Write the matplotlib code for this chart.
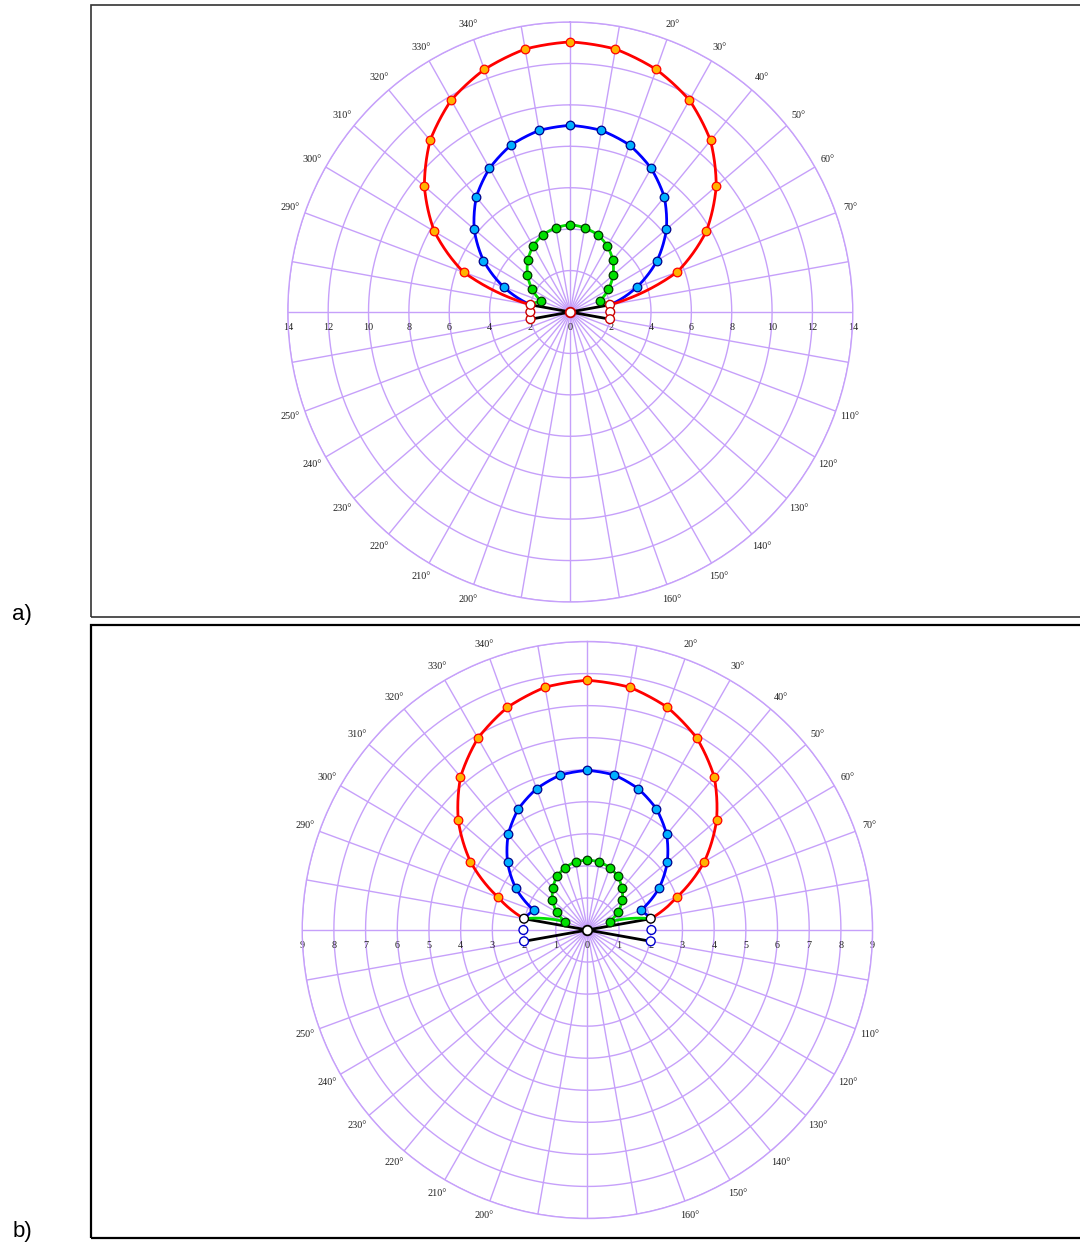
import numpy as np
import matplotlib
matplotlib.use("Agg")
import matplotlib.pyplot as plt
from matplotlib.patches import Rectangle

# ---------------- data ----------------
angles_deg = [-70, -60, -50, -40, -30, -20, -10, 0, 10, 20, 30, 40, 50, 60, 70]

a_red = [5.63, 7.78, 9.44, 10.81, 11.81, 12.46, 12.89, 13.04, 12.89, 12.46, 11.81, 10.81, 9.44, 7.78, 5.63]
a_blue = [3.50, 4.97, 6.22, 7.25, 8.01, 8.58, 8.90, 9.01, 8.90, 8.58, 8.01, 7.25, 6.22, 4.97, 3.50]
a_green = [1.54, 2.18, 2.77, 3.28, 3.68, 3.97, 4.13, 4.22, 4.13, 3.97, 3.68, 3.28, 2.77, 2.18, 1.54]

b_red = [3.01, 4.26, 5.32, 6.23, 6.91, 7.39, 7.69, 7.79, 7.69, 7.39, 6.91, 6.23, 5.32, 4.26, 3.01]
b_blue = [1.80, 2.61, 3.29, 3.89, 4.36, 4.69, 4.91, 4.98, 4.91, 4.69, 4.36, 3.89, 3.29, 2.61, 1.80]
b_green = [0.75, 1.11, 1.44, 1.70, 1.93, 2.07, 2.16, 2.18, 2.16, 2.07, 1.93, 1.70, 1.44, 1.11, 0.75]

side_angles = [80, 90, 100, 260, 270, 280]
a_side = [2.00, 1.98, 2.00, 2.00, 1.98, 2.00]
b_side = [2.03, 2.02, 2.03, 2.03, 2.02, 2.03]

angle_labels = [20, 30, 40, 50, 60, 70, 110, 120, 130, 140, 150, 160,
                200, 210, 220, 230, 240, 250, 290, 300, 310, 320, 330, 340]
a_rticks = [2, 4, 6, 8, 10, 12, 14]
b_rticks = [1, 2, 3, 4, 5, 6, 7, 8, 9]

# ---------------- style ----------------
GRID = "#c6a0fa"
SERIF = ["Liberation Serif", "DejaVu Serif"]
W, H = 1080, 1245
fig = plt.figure(figsize=(W / 100, H / 100), dpi=100)


def px_axes(x0, y0, x1, y1):
    return [x0 / W, 1 - y1 / H, (x1 - x0) / W, (y1 - y0) / H]


def curved(line, steps=40):
    # let the polar transform bend each segment along theta
    line.get_path()._interpolation_steps = steps
    return line


def draw_panel(rect, rmax, rticks, red, blue, green, side, side_edges, center_edge):
    ax = fig.add_axes(rect, projection="polar")
    ax.set_aspect("auto")
    ax.set_theta_zero_location("N")
    ax.set_theta_direction(-1)
    ax.set_ylim(0, rmax)
    ax.grid(False)
    ax.set_xticks([])
    ax.set_yticks([])
    ax.spines["polar"].set_color(GRID)
    ax.spines["polar"].set_linewidth(1.0)
    ax.patch.set_alpha(0)

    # grid: rings and spokes
    tt = np.linspace(0, 2 * np.pi, 721)
    for r in rticks:
        ax.plot(tt, np.full_like(tt, r), color=GRID, lw=1.0, zorder=1)
    for d in range(0, 360, 10):
        t = np.deg2rad(d)
        ax.plot([t, t], [0, rmax], color=GRID, lw=1.0, zorder=1)

    # angle labels
    for d in angle_labels:
        ax.text(np.deg2rad(d), rmax * 1.054, f"{d}°", ha="center", va="center",
                fontsize=7.3, family=SERIF, color="#222222")
    # radial labels along horizontal axis
    for r in [0] + rticks:
        for d in ([90, 270] if r > 0 else [90]):
            ax.annotate(str(r), xy=(np.deg2rad(d), r), xytext=(0, -11),
                        textcoords="offset points", ha="center", va="center",
                        fontsize=7.3, family=SERIF, color="#222222", zorder=2)

    th_side = np.deg2rad(side_angles)

    # black bow-tie from the origin
    for k in [0, 2, 3, 5]:
        ax.plot([th_side[k], th_side[k]], [0, side[k]], color="black", lw=2.0,
                zorder=3, solid_capstyle="round")

    th = np.deg2rad([side_angles[5] - 360] + angles_deg + [side_angles[0]])
    series = [(green, "#00e000", "#00e000", "#003300"),
              (blue, "#0000ff", "#00b0ff", "#00008b"),
              (red, "#ff0000", "#ffb300", "#ff0000")]
    for vals, lc, fc, ec in series:
        rr = [side[5]] + list(vals) + [side[0]]
        ln, = ax.plot(th, rr, color=lc, lw=2.0, zorder=4)
        curved(ln)
    for vals, lc, fc, ec in series:
        ax.plot(np.deg2rad(angles_deg), vals, ls="none", marker="o", ms=6.2,
                mfc=fc, mec=ec, mew=0.9, zorder=5)

    # white markers at the side and origin
    ax.scatter(th_side, side, s=40, c="white", edgecolors=side_edges,
               linewidths=1.0, zorder=6)
    ax.scatter([0], [0], s=48, c="white", edgecolors=center_edge,
               linewidths=1.3, zorder=6)
    return ax


draw_panel(px_axes(287.8, 22.0, 852.8, 602.0), 14, a_rticks,
           a_red, a_blue, a_green, a_side, ["#cc0000"] * 6, "#cc0000")
draw_panel(px_axes(302.2, 641.5, 872.6, 1218.5), 9, b_rticks,
           b_red, b_blue, b_green, b_side,
           ["#000000", "#0000cc", "#0000cc", "#0000cc", "#0000cc", "#000000"], "#000000")

# panel frames
fig.patches.append(Rectangle((91 / W, 1 - 617 / H), 1.0, (617 - 5) / H,
                             transform=fig.transFigure, fill=False,
                             edgecolor="#333333", lw=1.2, zorder=0))
fig.patches.append(Rectangle((91 / W, 1 - 1238 / H), 1.0, (1238 - 625) / H,
                             transform=fig.transFigure, fill=False,
                             edgecolor="black", lw=1.6, zorder=0))

fig.text(22 / W, 1 - 614 / H, "a)", ha="center", va="center", fontsize=16,
         family=["Liberation Sans", "DejaVu Sans"])
fig.text(22 / W, 1 - 1232 / H, "b)", ha="center", va="center", fontsize=16,
         family=["Liberation Sans", "DejaVu Sans"])

fig.savefig("out.png", dpi=100)
